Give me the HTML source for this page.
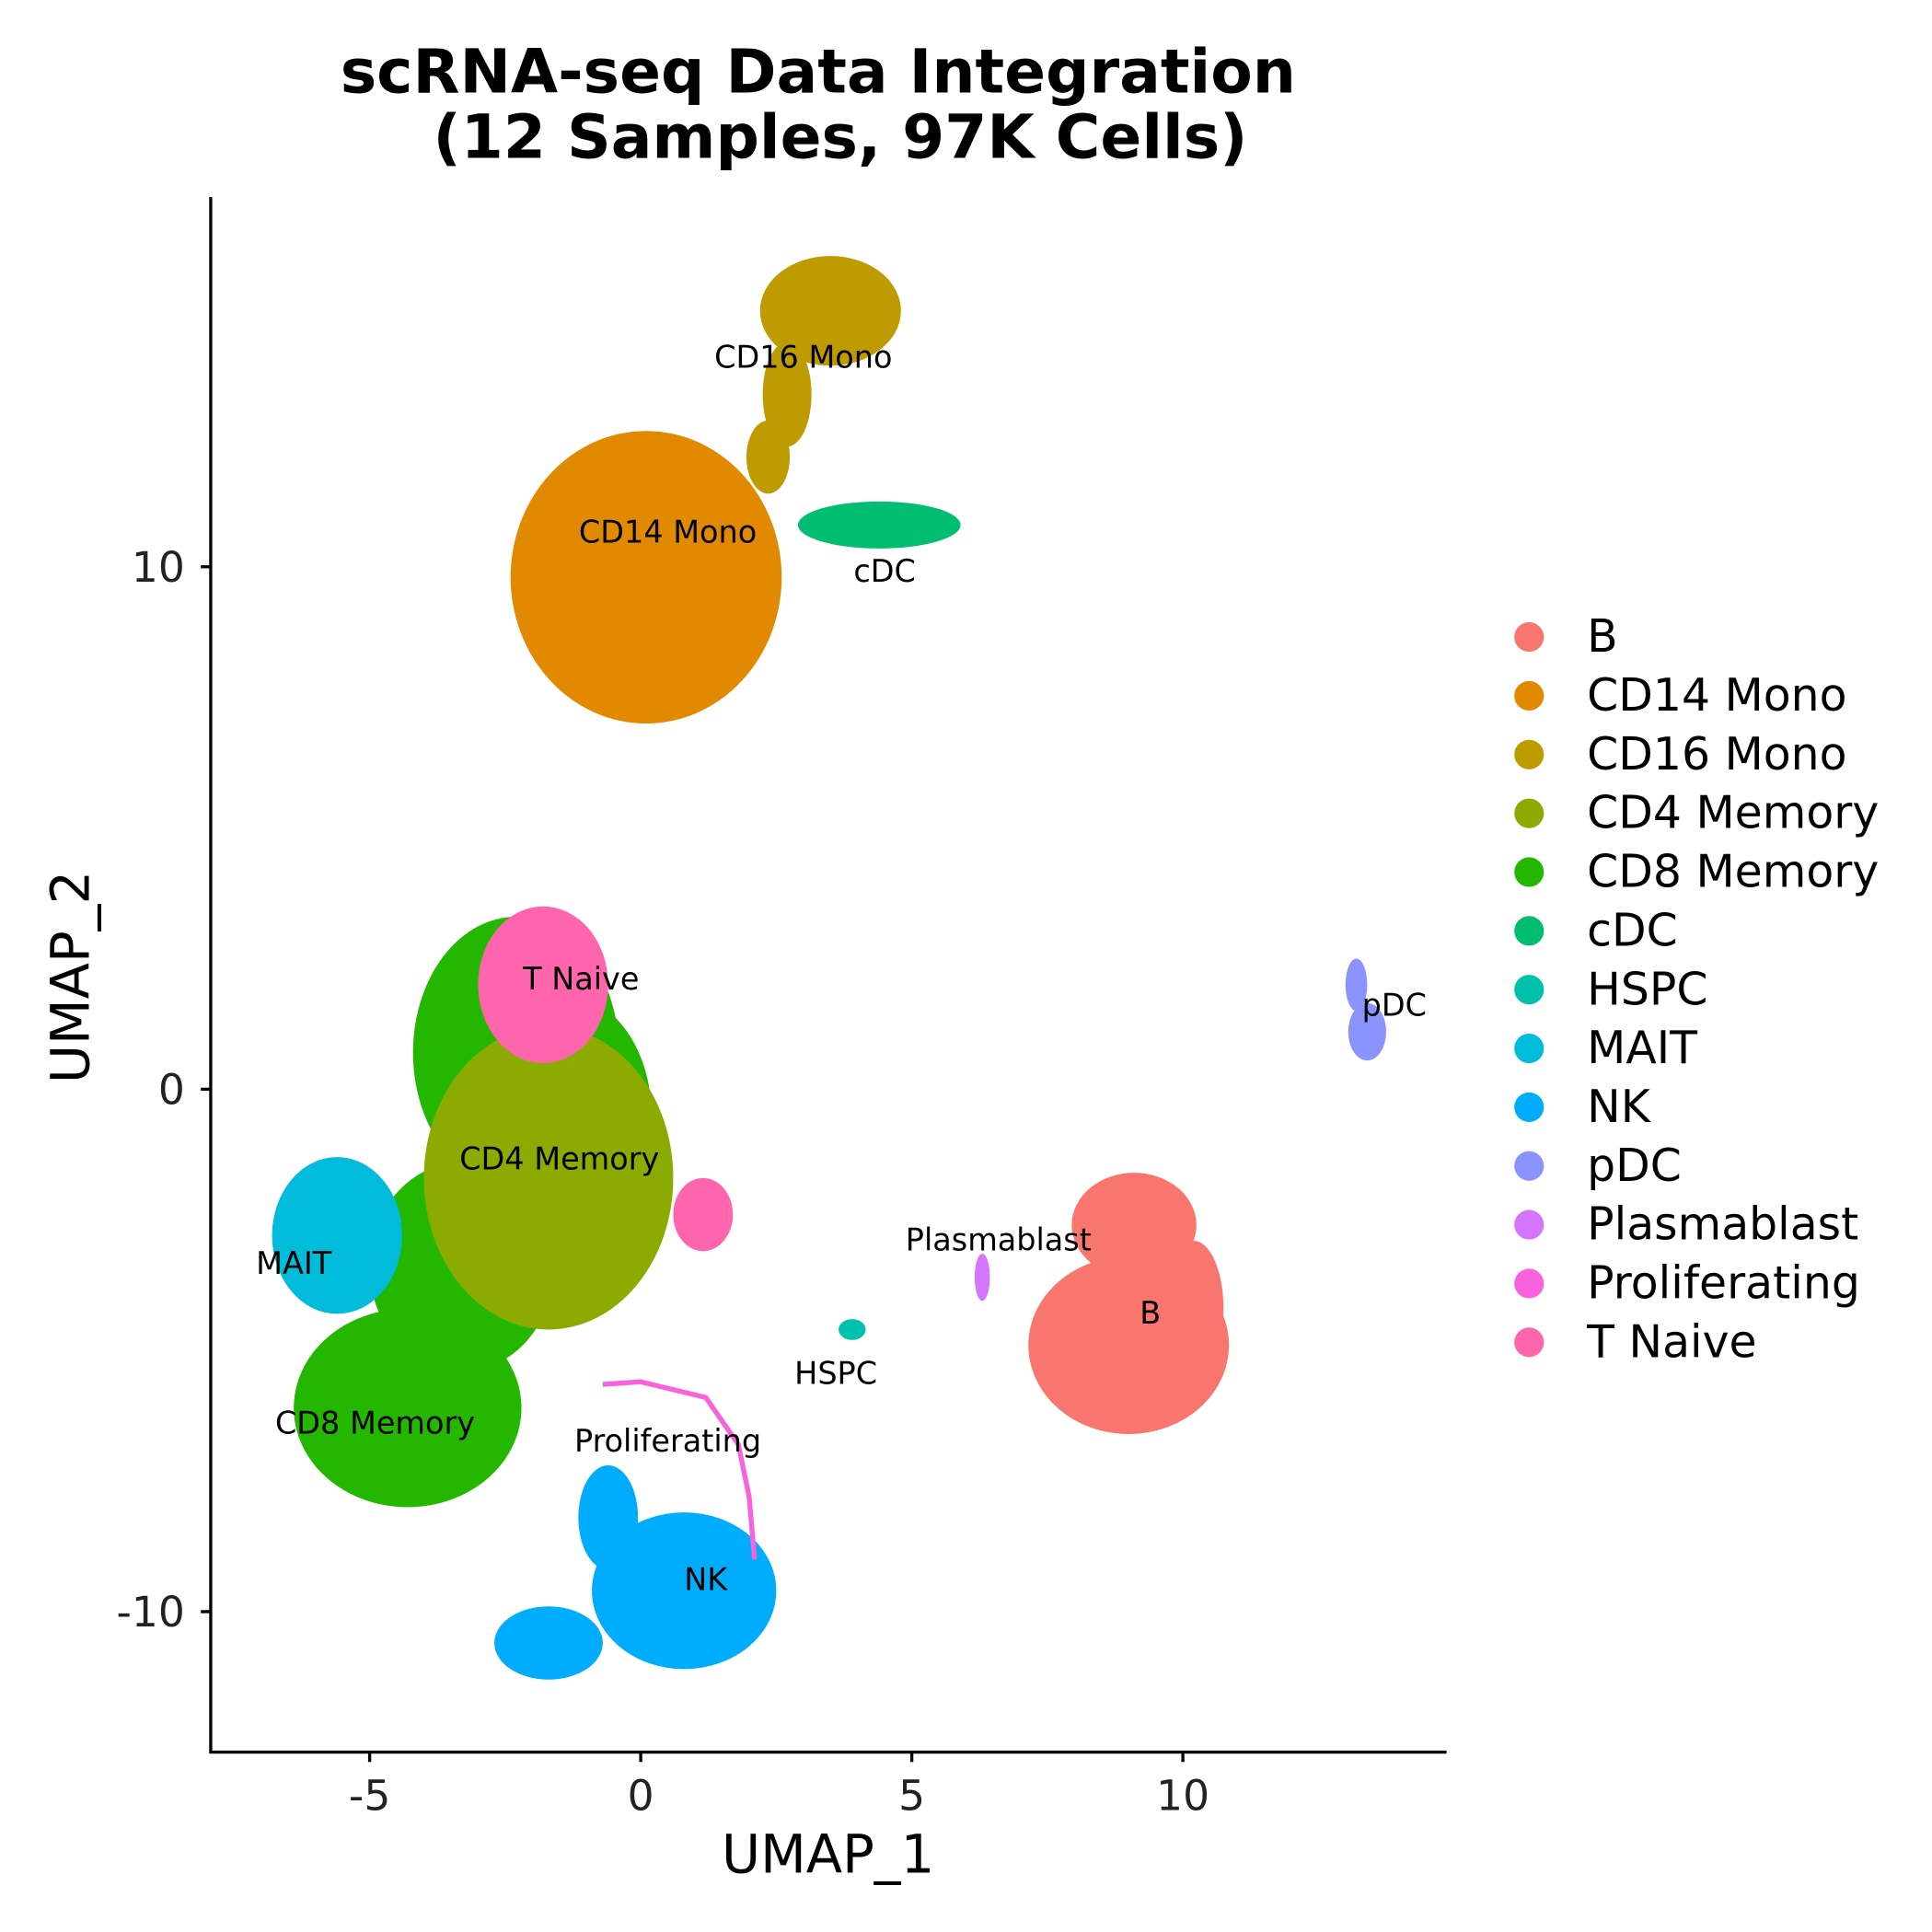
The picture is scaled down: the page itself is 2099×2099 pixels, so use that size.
<!DOCTYPE html>
<html><head><meta charset="utf-8"><style>
html,body{margin:0;padding:0;background:#fff;}
svg{display:block;font-family:"DejaVu Sans","Liberation Sans",sans-serif;}
</style></head><body>
<svg id="chart" width="2099" height="2099" viewBox="0 0 1568 1568" xmlns="http://www.w3.org/2000/svg">
<rect width="1568" height="1568" fill="#fff"/>
<text x="664" y="75" font-size="49.5" font-weight="bold" text-anchor="middle">scRNA-seq Data Integration</text>
<text x="682" y="128" font-size="49.5" font-weight="bold" text-anchor="middle">(12 Samples, 97K Cells)</text>
<g id="plot"></g>
<g id="labels"></g>
<line x1="171" y1="160" x2="171" y2="1423" stroke="#000" stroke-width="2.5"/>
<line x1="170" y1="1422" x2="1174" y2="1422" stroke="#000" stroke-width="2.5"/>
<g id="axes"></g>
<text x="672" y="1520" font-size="43" text-anchor="middle">UMAP_1</text>
<text transform="translate(72,793) rotate(-90)" font-size="43" text-anchor="middle">UMAP_2</text>
<g id="legend"></g>
</svg>
<script>
const clusterNames=["B","CD14 Mono","CD16 Mono","CD4 Memory","CD8 Memory","cDC","HSPC","MAIT","NK","pDC","Plasmablast","Proliferating","T Naive"];
const clusterColors=["#F8766D","#E18A00","#BE9C00","#8CAB00","#24B700","#00BE70","#00C1AB","#00BBDA","#00ACFC","#8B93FF","#D575FE","#F962DD","#FF65AC"];
// blobs: cluster index, center x, center y, radius x, radius y (data units)
const blobCluster=[2,2,2,1,5,4,4,4,4,3,12,12,7,8,8,8,0,0,0,10,6,9,9];
const blobX=[3.5,2.7,2.35,0.1,4.4,-4.3,-3.3,-2.3,-1.4,-1.7,-1.8,1.15,-5.6,0.8,-1.7,-0.6,9.0,9.1,10.2,6.3,3.9,13.4,13.2];
const blobY=[14.9,13.3,12.1,9.8,10.8,-6.1,-3.4,0.7,-0.5,-1.7,2.0,-2.4,-2.8,-9.6,-10.6,-8.2,-4.9,-2.6,-4.2,-3.6,-4.6,1.1,2.0];
const blobRX=[1.3,0.45,0.4,2.5,1.5,2.1,1.7,1.9,1.6,2.3,1.2,0.55,1.2,1.7,1.0,0.55,1.85,1.15,0.55,0.14,0.25,0.35,0.2];
const blobRY=[1.05,1.0,0.7,2.8,0.45,1.9,2.0,2.6,2.3,2.9,1.5,0.7,1.5,1.5,0.7,1.0,1.7,1.0,1.3,0.45,0.2,0.55,0.5];
const profX=[-0.7,0.0,1.2,1.8,2.0,2.1];
const profY=[-5.65,-5.6,-5.9,-6.8,-7.8,-9.0];
const labelText=["CD16 Mono","CD14 Mono","cDC","T Naive","CD4 Memory","MAIT","CD8 Memory","Proliferating","NK","Plasmablast","B","HSPC","pDC"];
const labelX=[3.0,0.5,4.5,-1.1,-1.5,-6.4,-4.9,0.5,1.2,6.6,9.4,3.6,13.9];
const labelY=[14.0,10.65,9.9,2.1,-1.35,-3.35,-6.4,-6.75,-9.4,-2.9,-4.3,-5.45,1.6];
const xTicks=[-5,0,5,10];
const yTicks=[-10,0,10];
const sx=v=>520+44*v, sy=v=>884-42.4*v;
const NS="http://www.w3.org/2000/svg";
const plot=document.getElementById('plot');
for(let i=0;i<blobX.length;i++){
  const e=document.createElementNS(NS,'ellipse');
  
  
  e.setAttribute('cx',sx(blobX[i]));e.setAttribute('cy',sy(blobY[i]));
  e.setAttribute('rx',44*blobRX[i]);e.setAttribute('ry',42.4*blobRY[i]);
  e.setAttribute('fill',clusterColors[blobCluster[i]]);
  plot.appendChild(e);
}
const p=document.createElementNS(NS,'path');


p.setAttribute('d',profX.map((x,i)=>(i?'L':'M')+sx(x)+','+sy(profY[i])).join(' '));
p.setAttribute('fill','none');p.setAttribute('stroke',clusterColors[11]);p.setAttribute('stroke-width','4');p.setAttribute('stroke-linejoin','round');
plot.appendChild(p);
const lab=document.getElementById('labels');
for(let i=0;i<labelX.length;i++){
  const t=document.createElementNS(NS,'text');
  
  
  t.setAttribute('x',sx(labelX[i]));t.setAttribute('y',sy(labelY[i])+8);
  t.setAttribute('font-size','25');t.setAttribute('text-anchor','middle');
  t.textContent=labelText[i];lab.appendChild(t);
}
const ax=document.getElementById('axes');
xTicks.forEach(v=>{
  const l=document.createElementNS(NS,'line');
  
  
  l.setAttribute('x1',sx(v));l.setAttribute('x2',sx(v));l.setAttribute('y1',1422);l.setAttribute('y2',1430);l.setAttribute('stroke','#000');l.setAttribute('stroke-width','2.5');ax.appendChild(l);
  const t=document.createElementNS(NS,'text');
  
  
  t.setAttribute('x',sx(v));t.setAttribute('y',1469);t.setAttribute('font-size','34');t.setAttribute('text-anchor','middle');t.setAttribute('fill','#222');
  t.textContent=v;ax.appendChild(t);
});
yTicks.forEach(v=>{
  const l=document.createElementNS(NS,'line');
  
  
  l.setAttribute('x1',163);l.setAttribute('x2',171);l.setAttribute('y1',sy(v));l.setAttribute('y2',sy(v));l.setAttribute('stroke','#000');l.setAttribute('stroke-width','2.5');ax.appendChild(l);
  const t=document.createElementNS(NS,'text');
  
  
  t.setAttribute('x',150);t.setAttribute('y',sy(v)+12);t.setAttribute('font-size','34');t.setAttribute('text-anchor','end');t.setAttribute('fill','#222');
  t.textContent=v;ax.appendChild(t);
});
const lg=document.getElementById('legend');
clusterNames.forEach((n,i)=>{
  const y=517+47.7*i;
  const c=document.createElementNS(NS,'circle');
  
  
  c.setAttribute('cx',1241);c.setAttribute('cy',y);c.setAttribute('r',12);c.setAttribute('fill',clusterColors[i]);lg.appendChild(c);
  const t=document.createElementNS(NS,'text');
  
  
  t.setAttribute('x',1288);t.setAttribute('y',y+12);t.setAttribute('font-size','36.5');
  t.textContent=n;lg.appendChild(t);
});
</script>
</body></html>
